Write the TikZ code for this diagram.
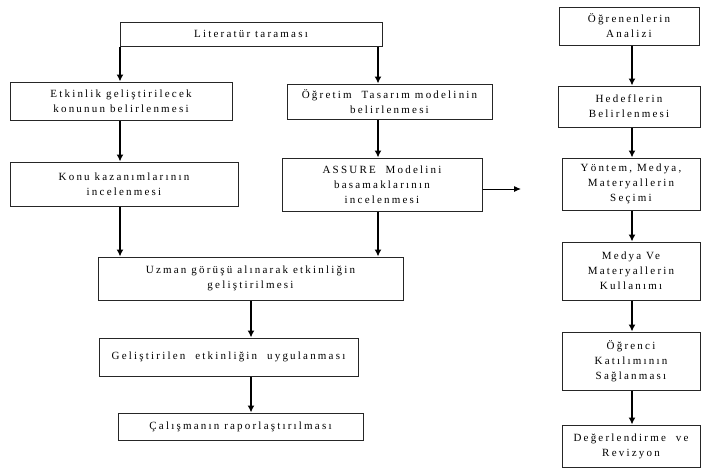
\documentclass[tikz,border=0pt]{standalone}
\usepackage{fontspec}
\setmainfont{Liberation Serif}[LetterSpace=20]
\usepackage{tikz}
\usetikzlibrary{arrows.meta}

\tikzset{
  box/.style={draw=black!85, line width=1pt, align=center, inner sep=1pt,
    font=\fontsize{11}{15}\selectfont},
  arr/.style={-{Latex[length=7pt,width=7pt]}, line width=1.5pt}
}

\begin{document}
\begin{tikzpicture}[x=1pt,y=-1pt]
        \useasboundingbox (0,0) rectangle (702,471);

        % Arrow columns
        \coordinate (L) at (120, 0);
        \coordinate (R) at (378, 0);
        \coordinate (M) at (251, 0);
        \coordinate (S) at (632, 0);

        % Left flow
        \node[box, minimum width=262pt, minimum height=24pt] (lit) at (251, 34) {Literatür taraması};
        \node[box, minimum width=222pt, minimum height=38pt] (etk) at (121, 101) {Etkinlik geliştirilecek\\konunun belirlenmesi};
        \node[box, minimum width=205pt, minimum height=35pt] (ogr) at (389.5, 101.5) {Öğretim\ \ Tasarım modelinin\\belirlenmesi};
        \node[box, minimum width=228pt, minimum height=44pt] (konu) at (124, 184) {Konu kazanımlarının\\incelenmesi};
        \node[box, minimum width=200pt, minimum height=53pt] (assure) at (382, 184.5) {ASSURE\ \ Modelini\\basamaklarının\\incelenmesi};
        \node[box, minimum width=305pt, minimum height=43pt] (uzman) at (250.5, 278.5) {Uzman görüşü alınarak etkinliğin\\geliştirilmesi};
        \node[box, minimum width=259pt, minimum height=38pt] (gel) at (228.5, 357) {Geliştirilen\ \ etkinliğin\ \ uygulanması};
        \node[box, minimum width=245pt, minimum height=27pt] (cal) at (240.5, 426.5) {Çalışmanın raporlaştırılması};
        \coordinate (out) at (521, 189);

        % Right flow (ASSURE steps)
        \node[box, minimum width=140pt, minimum height=38pt] (an) at (629, 26) {Öğrenenlerin\\Analizi};
        \node[box, minimum width=142pt, minimum height=41pt] (hed) at (629, 106.5) {Hedeflerin\\Belirlenmesi};
        \node[box, minimum width=138pt, minimum height=52pt] (yon) at (631, 184) {Yöntem, Medya,\\Materyallerin\\Seçimi};
        \node[box, minimum width=138pt, minimum height=58pt] (med) at (631, 271) {Medya Ve\\Materyallerin\\Kullanımı};
        \node[box, minimum width=138pt, minimum height=58pt] (kat) at (631, 361) {Öğrenci\\Katılımının\\Sağlanması};
        \node[box, minimum width=138pt, minimum height=42pt] (deg) at (631, 446) {Değerlendirme\ \ ve\\Revizyon};

        % Draw the arrows
        \draw[arr] (lit.south -| L) -- (etk.north -| L);
        \draw[arr] (lit.south -| R) -- (ogr.north -| R);
        \draw[arr] (etk.south -| L) -- (konu.north -| L);
        \draw[arr] (ogr.south -| R) -- (assure.north -| R);
        \draw[arr] (konu.south -| L) -- (uzman.north -| L);
        \draw[arr] (assure.south -| R) -- (uzman.north -| R);
        \draw[arr] (uzman.south -| M) -- (gel.north -| M);
        \draw[arr] (gel.south -| M) -- (cal.north -| M);
        \draw[-{Latex[length=7pt,width=6pt]}, line width=1pt] (assure.east |- out) -- (out);

        \draw[arr] (an.south -| S) -- (hed.north -| S);
        \draw[arr] (hed.south -| S) -- (yon.north -| S);
        \draw[arr] (yon.south -| S) -- (med.north -| S);
        \draw[arr] (med.south -| S) -- (kat.north -| S);
        \draw[arr] (kat.south -| S) -- (deg.north -| S);
\end{tikzpicture}
\end{document}
